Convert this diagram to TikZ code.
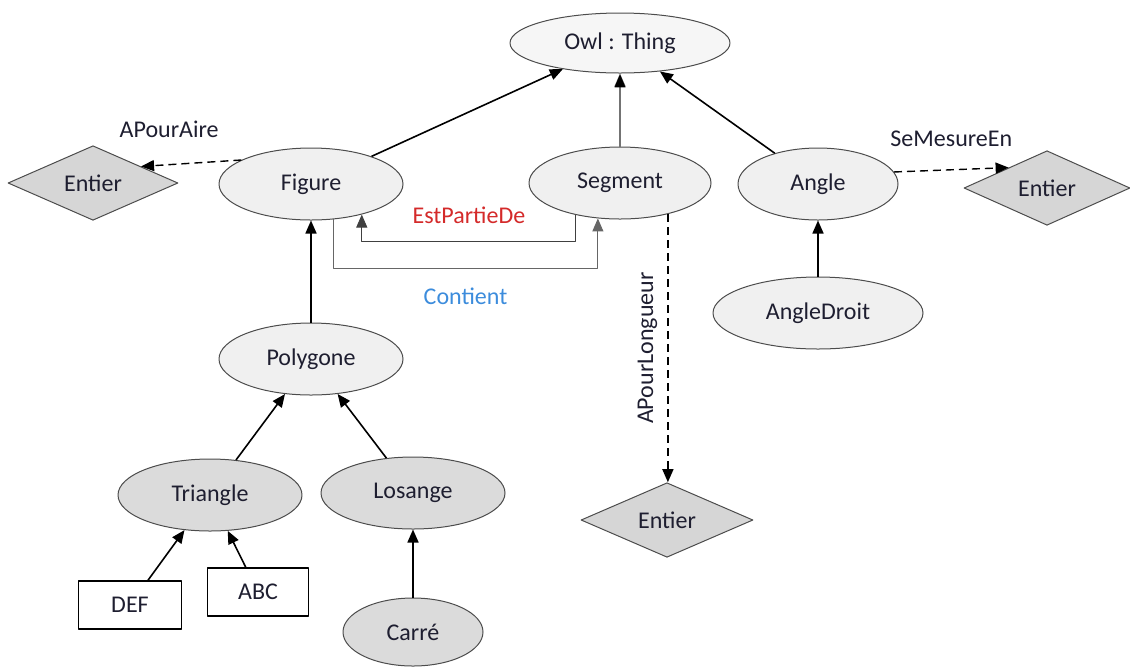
\documentclass[tikz,border=0pt]{standalone}
\usepackage{fontspec}
\setmainfont{Carlito}
\usetikzlibrary{shapes.geometric,arrows.meta}
\definecolor{txt}{HTML}{1E1E30}
\definecolor{estred}{HTML}{D42A2A}
\definecolor{contblue}{HTML}{3C8CDC}

\begin{document}
\begin{tikzpicture}[x=0.5pt, y=-0.5pt, line join=round, font=\fontsize{12}{14}\selectfont, text=txt,
  cls/.style={ellipse, draw=black!70, line width=0.5pt, fill=gray!12, inner sep=0pt, minimum width=92pt, minimum height=36pt},
  subcls/.style={cls, fill=gray!28},
  dtype/.style={diamond, draw=black!70, line width=0.5pt, fill=gray!32, inner sep=0pt, minimum width=85pt, minimum height=37pt},
  inst/.style={draw=black, line width=0.7pt, fill=white, inner sep=0pt, minimum width=51pt, minimum height=24pt},
  tip/.style={-{Triangle[length=6.5pt,width=5.5pt]}},
  isa/.style={tip, draw=black, line width=0.8pt},
  prop/.style={tip, draw=black, line width=0.7pt, dash pattern=on 4pt off 2.5pt}]

\useasboundingbox (0,0) rectangle (1130,666);

\node[cls, fill=gray!7, minimum width=110pt, minimum height=30pt] (thing) at (620,43) {Owl : Thing};
\node[cls] (figure) at (311,184) {Figure};
\node[cls, minimum width=91pt] (segment) at (620,183) {Segment};
\node[cls, minimum width=80pt] (angle) at (818,184) {Angle};
\node[cls, minimum width=105pt] (angledroit) at (818,313) {AngleDroit};
\node[cls] (polygone) at (311,359) {Polygone};
\node[subcls] (triangle) at (210,495) {Triangle};
\node[subcls] (losange) at (413,493) {Losange};
\node[subcls, minimum width=70pt, minimum height=34pt] (carre) at (413,632) {Carré};

\node[dtype] (entierA) at (93,183) {Entier};
\node[dtype, minimum width=83pt] (entierR) at (1047,188) {Entier};
\node[dtype, minimum width=86pt] (entierB) at (667,520) {Entier};

\node[inst, minimum width=51.5pt] (def) at (130,605) {DEF};
\node[inst, minimum width=50.5pt] (abc) at (258,592) {ABC};

\draw[isa] (figure) -- (thing);
\draw[isa, draw=black!55] (segment) -- (thing);
\fill[black] ([yshift=-0.4pt]thing.south) -- ++(-2.75pt,-6.5pt) -- ++(5.5pt,0pt) -- cycle;
\draw[isa] (angle) -- (thing);
\draw[isa] (angledroit) -- (angle);
\draw[isa] (polygone) -- (figure);
\draw[isa] (triangle) -- (polygone);
\draw[isa] (losange) -- (polygone);
\draw[isa] (def) -- (triangle);
\draw[isa] (abc) -- (triangle);
\draw[isa] (carre) -- (losange);

\draw[prop] (figure.161) -- node[pos=0.72, above=10pt] {APourAire} (entierA.19);
\draw[prop] (angle.9) -- node[midway, above=8pt] {SeMesureEn} (entierR.152);
\draw[prop] (segment.-33) -- node[midway, rotate=90, anchor=south, inner sep=5pt] {APourLongueur} (segment.-33 |- entierB.north);

\draw[tip, draw=black!75, line width=0.5pt] (segment.-144) -- ++(0,26) -| node[pos=0.25, above=5pt, text=estred] {EstPartieDe} (figure.-31);
\draw[tip, draw=black!60, line width=0.5pt] (figure.-58) -- ++(0,49) -| node[pos=0.25, below=6pt, text=contblue] {Contient} (segment.-122);

\end{tikzpicture}
\end{document}
